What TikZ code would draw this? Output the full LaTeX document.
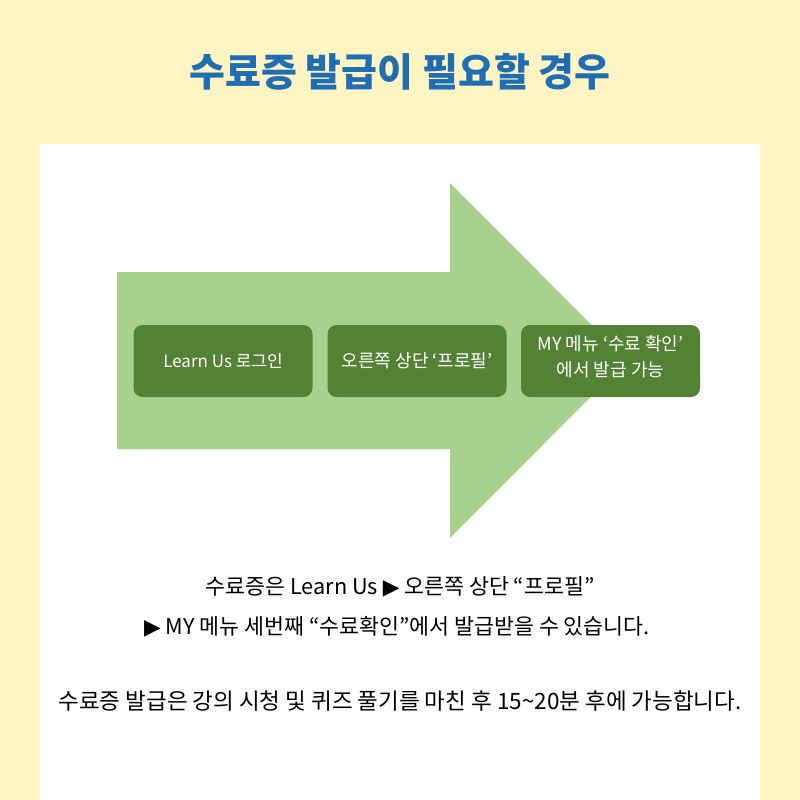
\documentclass[tikz,border=0pt]{standalone}
\usepackage{fontspec}
\setmainfont{Noto Sans CJK KR}
\newfontfamily\symfont{DejaVu Sans}
\definecolor{bgyellow}{HTML}{FFF5C2}
\definecolor{arrowgreen}{HTML}{A9D18E}
\definecolor{boxgreen}{HTML}{548235}
\definecolor{titleblue}{HTML}{1F6DB3}
\begin{document}
\begin{tikzpicture}[x=1pt,y=-1pt,
  stepbox/.style={fill=boxgreen, rounded corners=9pt, minimum width=179pt, minimum height=72pt,
    text=white, font=\fontsize{18}{26}\selectfont, align=center, inner sep=0pt},
  boxtext/.style={text=white, font=\fontsize{18}{26}\selectfont, align=center, inner sep=0pt},
  bodytext/.style={font=\fontsize{21.7}{24}\selectfont, text=black, inner sep=0pt}]
\useasboundingbox (0,0) rectangle (800,800);
\fill[bgyellow] (0,0) rectangle (800,800);
\fill[white] (40,144) rectangle (760,800);
\node[font=\fontsize{39}{42}\bfseries\selectfont, text=titleblue] (title) at (400,72) {수료증 발급이 필요할 경우};
\fill[arrowgreen] (117,272) -- (450,272) -- (450,183) -- (627,360.5) -- (450,538) -- (450,449) -- (117,449) -- cycle;
\node[stepbox, font=\fontsize{17}{24}\selectfont] (s1) at (223,361) {Learn Us 로그인};
\node[stepbox] (s2) at (417,361) {오른쪽 상단 ‘프로필’};
\node[stepbox] (s3) at (610.5,361) {};
\node[boxtext] (s3t) at ([yshift=4pt]s3.center) {MY 메뉴 ‘수료 확인’\\에서 발급 가능};
\node[bodytext] (l1) at (400,587) {수료증은 Learn Us {\symfont ▶} 오른쪽 상단 “프로필”};
\node[bodytext] (l2) at (397,627) {{\symfont ▶} MY 메뉴 세번째 “수료확인”에서 발급받을 수 있습니다.};
\node[bodytext, font=\fontsize{22.5}{24}\selectfont] (l3) at (400,701) {수료증 발급은 강의 시청 및 퀴즈 풀기를 마친 후 15\textasciitilde 20분 후에 가능합니다.};
\end{tikzpicture}
\end{document}
